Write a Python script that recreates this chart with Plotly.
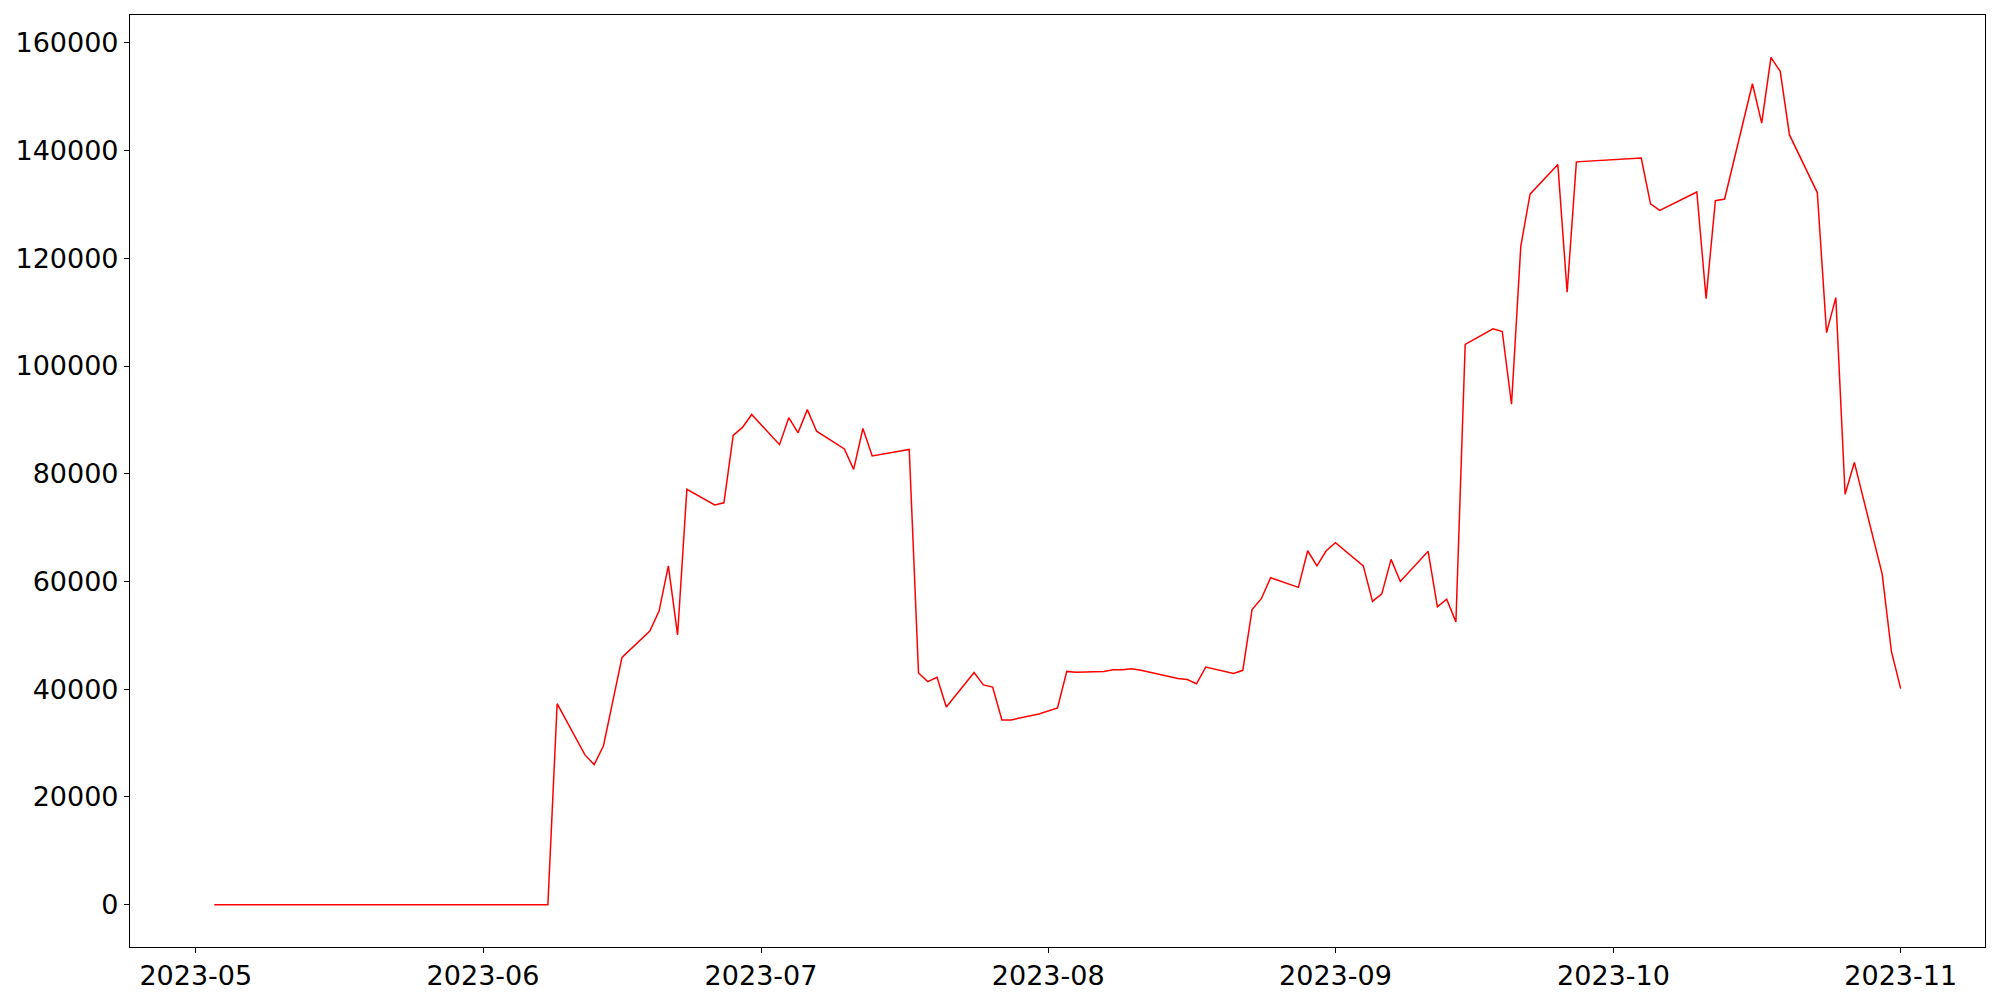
import plotly.graph_objects as go

dates = [
    "2023-05-03", "2023-05-04", "2023-05-05", "2023-05-08", "2023-05-09", "2023-05-10",
    "2023-05-11", "2023-05-12", "2023-05-15", "2023-05-16", "2023-05-17", "2023-05-18",
    "2023-05-19", "2023-05-22", "2023-05-23", "2023-05-24", "2023-05-25", "2023-05-26",
    "2023-05-29", "2023-05-30", "2023-05-31", "2023-06-01", "2023-06-02", "2023-06-05",
    "2023-06-06", "2023-06-07", "2023-06-08",
    "2023-06-09", "2023-06-12", "2023-06-13", "2023-06-14", "2023-06-16", "2023-06-19",
    "2023-06-20", "2023-06-21", "2023-06-22", "2023-06-23", "2023-06-26", "2023-06-27",
    "2023-06-28", "2023-06-29", "2023-06-30", "2023-07-03", "2023-07-04", "2023-07-05",
    "2023-07-06", "2023-07-07", "2023-07-10", "2023-07-11", "2023-07-12", "2023-07-13",
    "2023-07-17", "2023-07-18", "2023-07-19", "2023-07-20", "2023-07-21", "2023-07-24",
    "2023-07-25", "2023-07-26", "2023-07-27", "2023-07-28", "2023-07-31", "2023-08-01",
    "2023-08-02", "2023-08-03", "2023-08-04", "2023-08-07", "2023-08-08", "2023-08-09",
    "2023-08-10", "2023-08-11", "2023-08-14", "2023-08-15", "2023-08-16", "2023-08-17",
    "2023-08-18", "2023-08-21", "2023-08-22", "2023-08-23", "2023-08-24", "2023-08-25",
    "2023-08-28", "2023-08-29", "2023-08-30", "2023-08-31", "2023-09-01", "2023-09-04",
    "2023-09-05", "2023-09-06", "2023-09-07", "2023-09-08", "2023-09-11", "2023-09-12",
    "2023-09-13", "2023-09-14", "2023-09-15", "2023-09-18", "2023-09-19", "2023-09-20",
    "2023-09-21", "2023-09-22", "2023-09-25", "2023-09-26", "2023-09-27", "2023-10-04",
    "2023-10-05", "2023-10-06", "2023-10-10", "2023-10-11", "2023-10-12", "2023-10-13",
    "2023-10-16", "2023-10-17", "2023-10-18", "2023-10-19", "2023-10-20", "2023-10-23",
    "2023-10-24", "2023-10-25", "2023-10-26", "2023-10-27", "2023-10-30", "2023-10-31",
    "2023-11-01",
]

values = [
    0, 0, 0, 0, 0, 0,
    0, 0, 0, 0, 0, 0,
    0, 0, 0, 0, 0, 0,
    0, 0, 0, 0, 0, 0,
    0, 0, 0,
    37300, 27800, 26000, 29500, 45900, 50800,
    54500, 62900, 50100, 77100, 74200, 74600,
    87100, 88600, 91000, 85400, 90400, 87600,
    91900, 87900, 84600, 80800, 88400, 83300,
    84500, 43000, 41400, 42200, 36700, 43100,
    40800, 40400, 34300, 34300, 35400, 36000,
    36500, 43300, 43150, 43300, 43600, 43600,
    43800, 43500, 42300, 42000, 41800, 41000,
    44100, 42900, 43500, 54800, 56800, 60700,
    58900, 65700, 62900, 65700, 67200, 62900,
    56300, 57700, 64100, 60000, 65600, 55300,
    56700, 52500, 104000, 106900, 106400, 92900,
    122200, 131900, 137400, 113700, 137900, 138600,
    130100, 128900, 132300, 112500, 130700, 131000,
    152400, 145100, 157300, 154700, 142900, 132200,
    106200, 112700, 76200, 82100, 61400, 47000,
    40100,
]

x_ticks = ["2023-05-01", "2023-06-01", "2023-07-01", "2023-08-01",
           "2023-09-01", "2023-10-01", "2023-11-01"]
y_ticks = [0, 20000, 40000, 60000, 80000, 100000, 120000, 140000, 160000]

fig = go.Figure()
fig.add_trace(go.Scatter(
    x=dates, y=values, mode="lines",
    line=dict(color="#ff0000", width=1.5),
    showlegend=False,
))

axis_common = dict(
    showline=True, mirror=True, linecolor="black", linewidth=1.1,
    ticks="outside", ticklen=5, tickwidth=1.1, tickcolor="black",
    showgrid=False, zeroline=False, automargin=False,
    tickfont=dict(family="DejaVu Sans", size=27, color="black"),
)

fig.update_layout(
    width=2000, height=1000,
    margin=dict(l=130, r=15, t=15, b=53),
    paper_bgcolor="white", plot_bgcolor="white",
    font=dict(family="DejaVu Sans", size=27, color="black"),
    xaxis=dict(
        type="date",
        range=["2023-04-23 21:36", "2023-11-10 02:24"],
        tickvals=x_ticks, tickformat="%Y-%m",
        **axis_common,
    ),
    yaxis=dict(
        range=[-7865, 165165],
        tickvals=y_ticks, tickformat="d",
        **axis_common,
    ),
)

fig.write_html(
    "out.html",
    config={"displayModeBar": False},
    post_script="document.body.style.margin='0';document.body.style.overflow='hidden';",
)
